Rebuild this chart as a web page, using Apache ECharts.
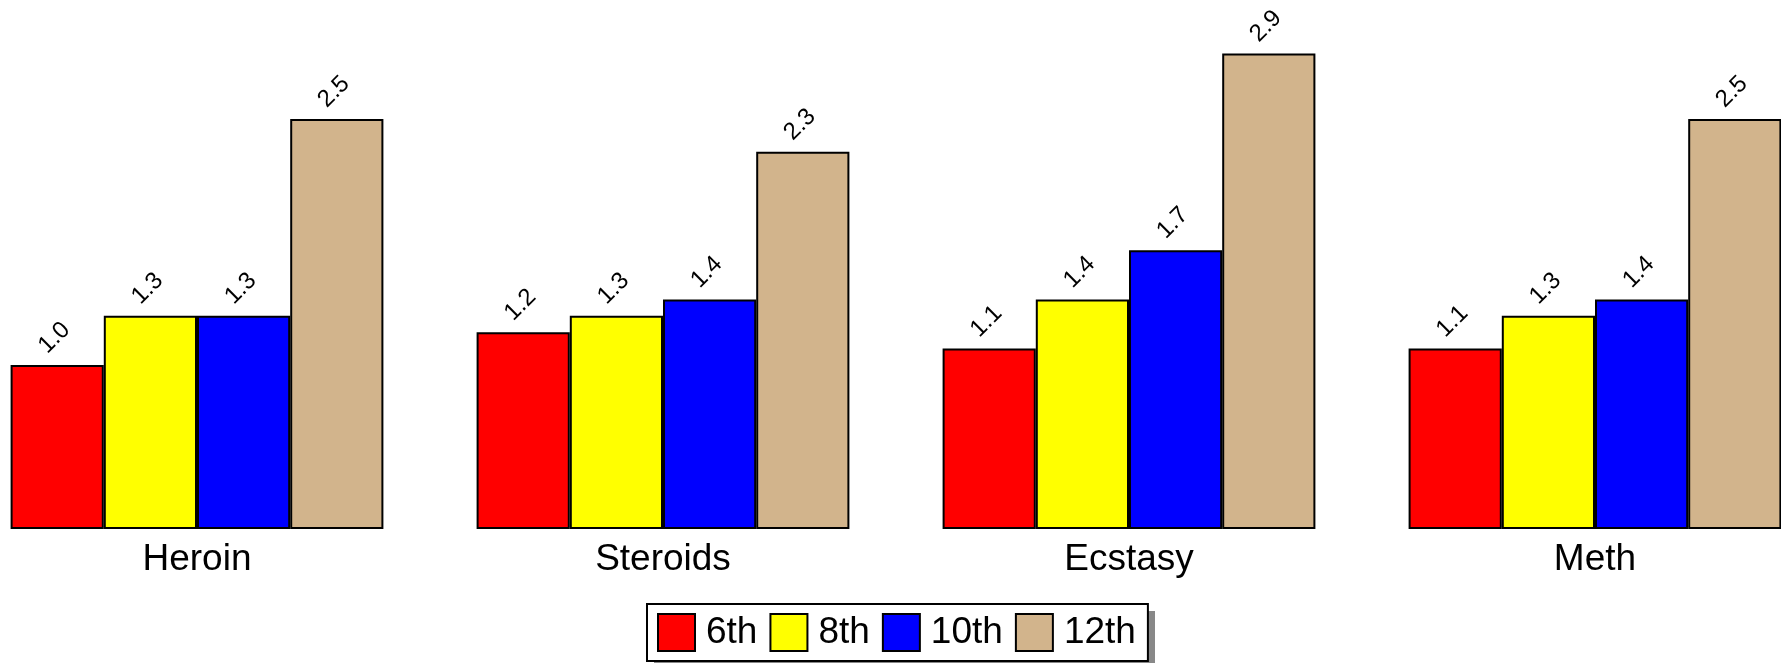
<!DOCTYPE html>
<html lang="en">
<head>
    <meta charset="UTF-8">
    <title>Drug use by grade</title>
    <script src="https://cdn.jsdelivr.net/npm/echarts@6.0.0/dist/echarts.min.js"></script>
    <style>
        * {
            box-sizing: border-box;
            margin: 0;
            padding: 0;
        }

        body {
            background-color: #fff;
            overflow: hidden;
            width: 1781px;
            height: 663px;
            position: relative;
        }

        /* plot runs past both page edges, like the original */
        #chart {
            position: absolute;
            left: -36px;
            top: 0;
            width: 1864px;
            height: 663px;
        }
    </style>
</head>
<body>
    <div id="chart"></div>

    <script>
        // data
        const drugs = ['Heroin', 'Steroids', 'Ecstasy', 'Meth'];
        const grades = ['6th', '8th', '10th', '12th'];
        const grade6 = [1.0, 1.2, 1.1, 1.1];
        const grade8 = [1.3, 1.3, 1.4, 1.3];
        const grade10 = [1.3, 1.4, 1.7, 1.4];
        const grade12 = [2.5, 2.3, 2.9, 2.5];
        const colors = ['#ff0000', '#ffff00', '#0000ff', '#d2b48c'];

        const font = '"Liberation Sans", Arial, sans-serif';
        const chart = echarts.init(document.getElementById('chart'));

        const makeSeries = (name, values, color) => ({
            name: name,
            type: 'bar',
            data: values,
            barGap: '0%',
            barCategoryGap: '20%',
            itemStyle: {
                color: color,
                borderColor: '#000',
                borderWidth: 2
            },
            label: {
                show: true,
                position: 'top',
                distance: 30,
                rotate: 45,
                align: 'center',
                verticalAlign: 'middle',
                offset: [-4, 0],
                formatter: p => p.value.toFixed(1),
                fontFamily: font,
                fontSize: 24,
                color: '#000'
            }
        });

        // legend box sits at x 647..1148 of the page, chart div is shifted by 36
        const legendLeft = 36 + 647;

        const option = {
            animation: false,
            grid: {
                left: 0,
                right: 0,
                top: 37,
                bottom: 134
            },
            xAxis: {
                type: 'category',
                data: drugs,
                axisLine: { show: false },
                axisTick: { show: false },
                axisLabel: {
                    margin: 12,
                    fontFamily: font,
                    fontSize: 37,
                    color: '#000'
                }
            },
            yAxis: {
                type: 'value',
                min: 0,
                max: 3,
                show: false
            },
            // grey drop shadow behind the legend box
            graphic: [{
                type: 'rect',
                left: legendLeft + 7,
                top: 611,
                z: -1,
                shape: { width: 501, height: 60 },
                style: { fill: '#888' }
            }],
            legend: {
                data: grades,
                top: 604,
                left: legendLeft,
                padding: [9, 12, 9, 10],
                itemWidth: 37,
                itemHeight: 37,
                itemGap: 12,
                icon: 'rect',
                backgroundColor: '#fff',
                borderColor: '#000',
                borderWidth: 2,
                textStyle: {
                    fontFamily: font,
                    fontSize: 37,
                    color: '#000',
                    padding: [0, 0, 0, 6]
                }
            },
            series: [
                makeSeries(grades[0], grade6, colors[0]),
                makeSeries(grades[1], grade8, colors[1]),
                makeSeries(grades[2], grade10, colors[2]),
                makeSeries(grades[3], grade12, colors[3])
            ]
        };
        chart.setOption(option);
    </script>
</body>
</html>
